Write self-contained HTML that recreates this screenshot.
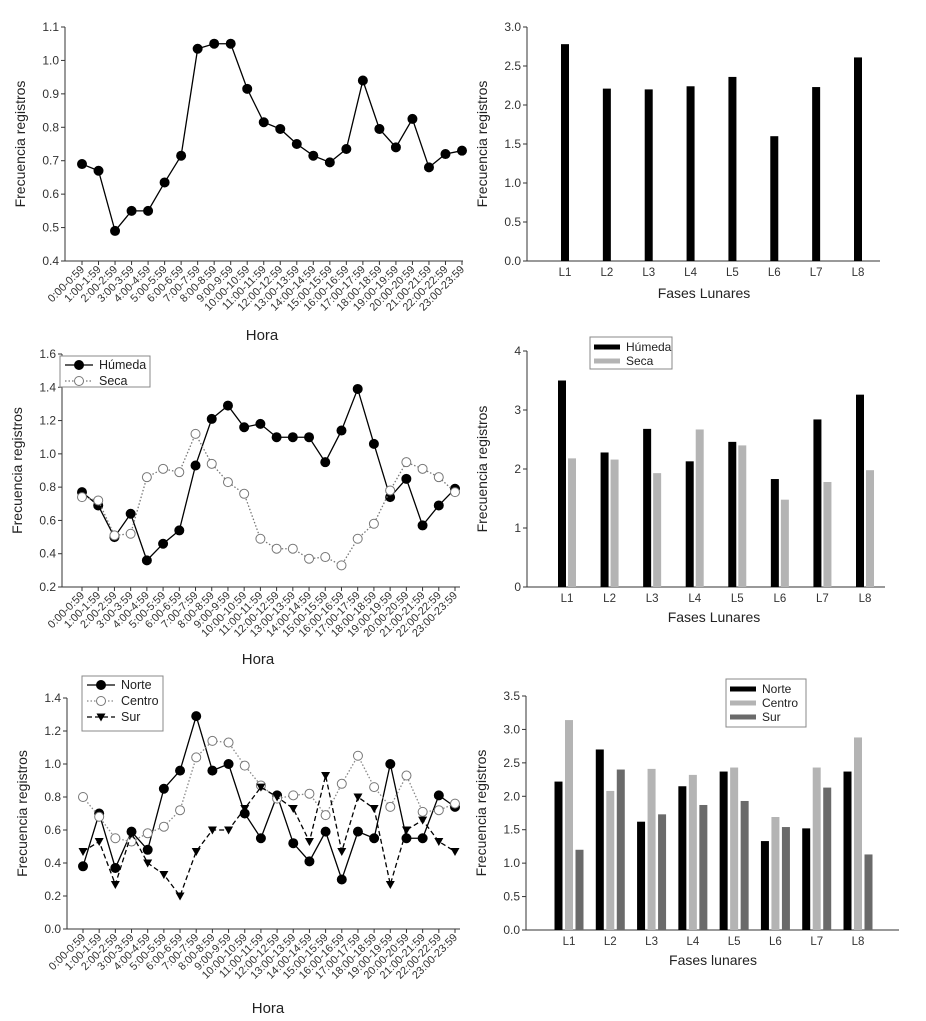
<!DOCTYPE html>
<html><head><meta charset="utf-8"><style>
body{margin:0;background:#fff}
svg{display:block;font-family:"Liberation Sans",Arial,sans-serif}
</style></head><body>
<svg id="fig" width="926" height="1021" viewBox="0 0 926 1021"></svg>
<script>
const hours=["0:00-0:59","1:00-1:59","2:00-2:59","3:00-3:59","4:00-4:59","5:00-5:59","6:00-6:59","7:00-7:59","8:00-8:59","9:00-9:59","10:00-10:59","11:00-11:59","12:00-12:59","13:00-13:59","14:00-14:59","15:00-15:59","16:00-16:59","17:00-17:59","18:00-18:59","19:00-19:59","20:00-20:59","21:00-21:59","22:00-22:59","23:00-23:59"];
const phases=["L1","L2","L3","L4","L5","L6","L7","L8"];
const p1Total=[0.69,0.67,0.49,0.55,0.55,0.635,0.715,1.035,1.05,1.05,0.915,0.815,0.795,0.75,0.715,0.695,0.735,0.94,0.795,0.74,0.825,0.68,0.72,0.73];
const p2Total=[2.78,2.21,2.20,2.24,2.36,1.60,2.23,2.61];
const p3Humeda=[0.77,0.69,0.50,0.64,0.36,0.46,0.54,0.93,1.21,1.29,1.16,1.18,1.10,1.10,1.10,0.95,1.14,1.39,1.06,0.74,0.85,0.57,0.69,0.79];
const p3Seca=[0.74,0.72,0.51,0.52,0.86,0.91,0.89,1.12,0.94,0.83,0.76,0.49,0.43,0.43,0.37,0.38,0.33,0.49,0.58,0.78,0.95,0.91,0.86,0.77];
const p4Humeda=[3.5,2.28,2.68,2.13,2.46,1.83,2.84,3.26];
const p4Seca=[2.18,2.16,1.93,2.67,2.40,1.48,1.78,1.98];
const p5Norte=[0.38,0.70,0.37,0.59,0.48,0.85,0.96,1.29,0.96,1.00,0.70,0.55,0.81,0.52,0.41,0.59,0.30,0.59,0.55,1.00,0.55,0.55,0.81,0.74];
const p5Centro=[0.80,0.68,0.55,0.53,0.58,0.62,0.72,1.04,1.14,1.13,0.99,0.87,0.79,0.81,0.82,0.69,0.88,1.05,0.86,0.74,0.93,0.71,0.72,0.76];
const p5Sur=[0.47,0.53,0.27,0.58,0.40,0.33,0.20,0.47,0.60,0.60,0.73,0.86,0.80,0.73,0.53,0.93,0.47,0.80,0.73,0.27,0.60,0.66,0.53,0.47];
const p6Norte=[2.22,2.70,1.62,2.15,2.37,1.33,1.52,2.37];
const p6Centro=[3.14,2.08,2.41,2.32,2.43,1.69,2.43,2.88];
const p6Sur=[1.20,2.40,1.73,1.87,1.93,1.54,2.13,1.13];
const ticks1=[0.4,0.5,0.6,0.7,0.8,0.9,1.0,1.1];
const ticks2=[0,0.5,1,1.5,2,2.5,3];
const ticks3=[0.2,0.4,0.6,0.8,1.0,1.2,1.4,1.6];
const ticks4=[0,1,2,3,4];
const ticks5=[0,0.2,0.4,0.6,0.8,1.0,1.2,1.4];
const ticks6=[0,0.5,1,1.5,2,2.5,3,3.5];

const NS="http://www.w3.org/2000/svg";
const svg=document.getElementById('fig');
function el(tag,attrs,parent,text){const e=document.createElementNS(NS,tag);for(const k in attrs)e.setAttribute(k,attrs[k]);if(text!==undefined)e.textContent=text;(parent||svg).appendChild(e);return e;}

function axes(g,c,ticks,dec){
  const ys=v=>c.y0+(v-c.ymin)/(c.ymax-c.ymin)*(c.y1-c.y0);
  let a=el('line',{x1:c.ax,y1:c.y1,x2:c.ax,y2:c.y0,stroke:'#333','stroke-width':1},g);
  
  
  a=el('line',{x1:c.ax,y1:c.y0,x2:c.axEnd,y2:c.y0,stroke:'#333','stroke-width':1},g);
  
  
  ticks.forEach(t=>{
    const y=ys(t);
    el('line',{x1:c.ax-4,y1:y,x2:c.ax,y2:y,stroke:'#333'},g);
    const tl=el('text',{x:c.ax-6,y:y+4,'text-anchor':'end','font-size':12,fill:'#333'},g,t.toFixed(dec));
    
    
  });
  const yt=el('text',{x:0,y:0,'text-anchor':'middle','font-size':14,fill:'#222',transform:`translate(${c.ax-40},${(c.y0+c.y1)/2}) rotate(-90)`},g,'Frecuencia registros');
  
  
  return ys;
}

function marker(g,type,x,y,fill){
  if(type==='tri'){el('path',{d:`M${x-4.5},${y-3.5}L${x+4.5},${y-3.5}L${x},${y+4.5}Z`,fill:'#000'},g);}
  else el('circle',{cx:x,cy:y,r:4.5,fill:fill,stroke:fill==='#fff'?'#777':'#000','stroke-width':1},g);
}

function lineChart(c,series,ticks,name){
  const g=el('g',{},svg);
  
  
  const ys=axes(g,c,ticks,1);
  const xs=i=>c.x0+i*(c.x1-c.x0)/(hours.length-1);
  hours.forEach((h,i)=>{
    const x=xs(i);
    el('line',{x1:x,y1:c.y0,x2:x,y2:c.y0+4,stroke:'#333'},g);
    const t=el('text',{x:0,y:0,'text-anchor':'end','font-size':11,fill:'#333',transform:`translate(${x+3},${c.y0+9}) rotate(-45)`},g,h);
    
    
  });
  const xt=el('text',{x:c.xtx,y:c.xty,'text-anchor':'middle','font-size':15,fill:'#222'},g,'Hora');
  
  
  series.forEach(s=>{
    const sg=el('g',{},g);
    
    
    const pts=s.data.map((v,i)=>xs(i)+','+ys(v)).join(' ');
    el('polyline',{points:pts,fill:'none',stroke:s.stroke,'stroke-width':1.3,'stroke-dasharray':s.dash||'none'},sg);
    s.data.forEach((v,i)=>marker(sg,s.marker,xs(i),ys(v),s.fill));
  });
  if(c.legend){
    const L=c.legend;
    const lg=el('g',{},g);
    
    
    el('rect',{x:L.x,y:L.y,width:L.w,height:L.h,fill:'#fff',stroke:'#888'},lg);
    series.forEach((s,k)=>{
      const y=L.y+9+k*16;
      el('line',{x1:L.x+5,y1:y,x2:L.x+33,y2:y,stroke:s.stroke,'stroke-width':1.2,'stroke-dasharray':s.dash||'none'},lg);
      marker(lg,s.marker,L.x+19,y,s.fill);
      const t=el('text',{x:L.x+39,y:y+4,'font-size':12.5,fill:'#222'},lg,s.label);
      
      
    });
  }
}

function barChart(c,series,ticks,name){
  const g=el('g',{},svg);
  
  
  const ys=axes(g,c,ticks,c.dec);
  const xs=i=>c.x0+i*(c.x1-c.x0)/(phases.length-1);
  const n=series.length,step=c.bw+c.gap;
  phases.forEach((p,i)=>{
    const t=el('text',{x:xs(i),y:c.y0+15,'text-anchor':'middle','font-size':11.5,fill:'#333'},g,p);
    
    
  });
  const xt=el('text',{x:c.xtx,y:c.xty,'text-anchor':'middle','font-size':14,fill:'#222'},g,c.xtitle);
  
  
  series.forEach((s,k)=>{
    s.data.forEach((v,i)=>{
      const cx=xs(i)+(k-(n-1)/2)*step;
      const b=el('rect',{x:cx-c.bw/2,y:ys(v),width:c.bw,height:c.y0-ys(v),fill:s.fill},g);
      
      
    });
  });
  if(c.legend){
    const L=c.legend;
    const lg=el('g',{},g);
    
    
    el('rect',{x:L.x,y:L.y,width:L.w,height:L.h,fill:'#fff',stroke:'#888'},lg);
    series.forEach((s,k)=>{
      const y=L.y+10+k*L.dy;
      el('rect',{x:L.x+4,y:y-2.5,width:26,height:5,fill:s.fill},lg);
      const t=el('text',{x:L.x+36,y:y+4,'font-size':12,fill:'#222'},lg,s.label);
      
      
    });
  }
}

lineChart({ax:65,axEnd:463,y0:261,y1:27,ymin:0.4,ymax:1.1,x0:82,x1:462,xtx:262,xty:340},
  [{label:'Total',data:p1Total,stroke:'#000',marker:'dot',fill:'#000'}],ticks1,'chart-hora-total');
barChart({ax:527,axEnd:880,y0:261,y1:27,ymin:0,ymax:3,x0:565,x1:858,bw:8,gap:0,dec:1,xtx:704,xty:298,xtitle:'Fases Lunares'},
  [{label:'Total',data:p2Total,fill:'#000'}],ticks2,'chart-fases-total');
lineChart({ax:62,axEnd:460,y0:587,y1:354,ymin:0.2,ymax:1.6,x0:82,x1:455,xtx:258,xty:664,
  legend:{x:60,y:356,w:90,h:31}},
  [{label:'Húmeda',data:p3Humeda,stroke:'#000',marker:'dot',fill:'#000'},
   {label:'Seca',data:p3Seca,stroke:'#777',dash:'1.5,2',marker:'dot',fill:'#fff'}],ticks3,'chart-hora-estacion');
barChart({ax:527,axEnd:885,y0:587,y1:351,ymin:0,ymax:4,x0:567,x1:865,bw:8,gap:2,dec:0,xtx:714,xty:622,xtitle:'Fases Lunares',
  legend:{x:590,y:337,w:82,h:32,dy:14}},
  [{label:'Húmeda',data:p4Humeda,fill:'#000'},{label:'Seca',data:p4Seca,fill:'#b4b4b4'}],ticks4,'chart-fases-estacion');
lineChart({ax:67,axEnd:460,y0:929,y1:698,ymin:0,ymax:1.4,x0:83,x1:455,xtx:268,xty:1013,
  legend:{x:82,y:676,w:81,h:55}},
  [{label:'Norte',data:p5Norte,stroke:'#000',marker:'dot',fill:'#000'},
   {label:'Centro',data:p5Centro,stroke:'#888',dash:'1.5,2',marker:'dot',fill:'#fff'},
   {label:'Sur',data:p5Sur,stroke:'#000',dash:'5,3',marker:'tri',fill:'#000'}],ticks5,'chart-hora-region');
barChart({ax:526,axEnd:899,y0:930,y1:696,ymin:0,ymax:3.5,x0:569,x1:858,bw:8,gap:2.5,dec:1,xtx:713,xty:965,xtitle:'Fases lunares',
  legend:{x:726,y:679,w:80,h:48,dy:14}},
  [{label:'Norte',data:p6Norte,fill:'#000'},{label:'Centro',data:p6Centro,fill:'#b4b4b4'},{label:'Sur',data:p6Sur,fill:'#6a6a6a'}],ticks6,'chart-fases-region');
</script>
</body></html>
